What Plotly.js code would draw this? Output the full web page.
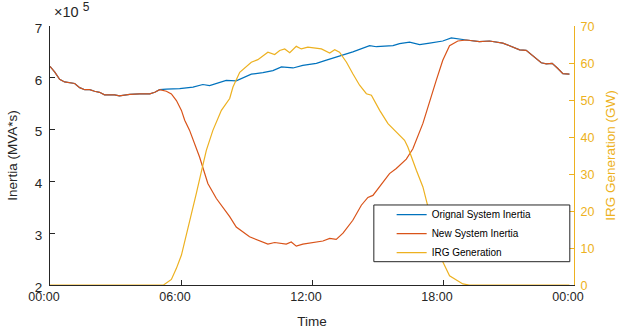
<!DOCTYPE html>
<html>
<head>
<meta charset="utf-8">
<script src="https://cdn.plot.ly/plotly-3.0.1.min.js"></script>
<style>html,body{margin:0;padding:0;background:#fff;}#chart{width:619px;height:331px;}</style>
</head>
<body>
<div id="chart"></div>
<script>
// Shared inertia before the two curves split (hours, x1e5 MVA*s)
const commonEarlyT = [0, 0.22, 0.44, 0.67, 1.13, 1.36, 1.59, 1.82, 2.04, 2.27, 2.50, 2.96, 3.18, 3.40, 3.65, 4.11, 4.57, 4.80, 5.02];
const commonEarlyV = [6.22, 6.11, 5.97, 5.92, 5.89, 5.81, 5.77, 5.77, 5.74, 5.72, 5.67, 5.67, 5.65, 5.67, 5.68, 5.69, 5.69, 5.72, 5.77];
// Original system inertia while the curves differ
const blueMidT = [5.33, 5.94, 6.55, 7.00, 7.31, 7.77, 8.07, 8.53, 9.22, 9.75, 10.21, 10.60, 11.13, 11.58, 12.20, 12.66, 13.11, 13.87, 14.64, 14.95, 15.71, 16.01, 16.47, 16.93, 17.39, 17.99, 18.38, 18.68];
const blueMidV = [5.78, 5.79, 5.82, 5.87, 5.85, 5.91, 5.95, 5.94, 6.07, 6.10, 6.14, 6.21, 6.19, 6.24, 6.28, 6.34, 6.40, 6.50, 6.62, 6.60, 6.62, 6.66, 6.69, 6.64, 6.67, 6.71, 6.77, 6.75];
// New system inertia while the curves differ
const redMidT = [5.33, 5.56, 5.79, 6.02, 6.17, 6.39, 6.85, 7.23, 7.62, 8.23, 8.53, 9.14, 9.98, 10.29, 10.82, 11.05, 11.28, 11.58, 12.50, 12.81, 13.11, 13.42, 13.87, 14.26, 14.56, 14.79, 15.55, 15.86, 16.32, 16.62, 17.08, 17.39, 17.69, 17.99, 18.30, 18.68];
const redMidV = [5.74, 5.69, 5.56, 5.37, 5.18, 4.99, 4.47, 3.96, 3.67, 3.32, 3.12, 2.93, 2.79, 2.82, 2.79, 2.83, 2.75, 2.79, 2.85, 2.90, 2.88, 3.00, 3.25, 3.54, 3.69, 3.73, 4.15, 4.25, 4.43, 4.63, 5.12, 5.56, 5.95, 6.34, 6.62, 6.71];
// Shared inertia after the curves merge again
const commonLateT = [19.07, 19.67, 20.13, 20.74, 21.20, 21.51, 21.81, 22.12, 22.50, 22.73, 23.00, 23.26, 23.49, 23.79];
const commonLateV = [6.73, 6.70, 6.71, 6.67, 6.59, 6.54, 6.53, 6.43, 6.29, 6.27, 6.28, 6.18, 6.08, 6.07];
// IRG generation (GW)
const irgT = [0, 5.20, 5.56, 5.79, 6.02, 6.25, 6.47, 6.70, 6.93, 7.16, 7.46, 7.85, 8.23, 8.38, 8.69, 9.22, 9.52, 9.98, 10.29, 10.52, 10.75, 10.98, 11.28, 11.51, 11.81, 12.43, 12.81, 13.04, 13.26, 13.58, 13.87, 14.18, 14.49, 14.72, 15.10, 15.48, 16.24, 16.39, 16.78, 17.08, 17.39, 17.84, 17.99, 18.30, 18.91, 19.20, 23.79];
const irgV = [0, 0, 1.5, 4.5, 8.1, 13.5, 18.9, 24.7, 30.6, 36.4, 41.8, 47.2, 50.4, 53.5, 57.5, 60.2, 60.9, 62.9, 62.3, 63.4, 63.8, 62.8, 64.5, 63.8, 64.3, 63.8, 62.7, 63.6, 62.9, 60.2, 57.1, 54.0, 51.7, 51.3, 47.2, 43.6, 39.1, 37.3, 31.0, 26.5, 19.3, 8.6, 6.3, 2.5, 0.3, 0, 0];

const tickHours = [0, 6, 12, 18, 24];
const tickLabels = ['00:00', '06:00', '12:00', '18:00', '00:00'];
const seriesNames = ['Orignal System Inertia', 'New System Inertia', 'IRG Generation'];

const BLUE = '#0072BD', RED = '#D95319', YEL = '#EDB120', INK = '#262626';
const FONT = 'Liberation Sans, Arial, Helvetica, sans-serif';

const blueT = commonEarlyT.concat(blueMidT, commonLateT);
const blueV = commonEarlyV.concat(blueMidV, commonLateV);
const redT = commonEarlyT.concat(redMidT, commonLateT);
const redV = commonEarlyV.concat(redMidV, commonLateV);

const traces = [
  {x: blueT, y: blueV, type: 'scatter', mode: 'lines', name: seriesNames[0], line: {color: BLUE, width: 1.2}, yaxis: 'y'},
  {x: redT, y: redV, type: 'scatter', mode: 'lines', name: seriesNames[1], line: {color: RED, width: 1.2}, yaxis: 'y'},
  {x: irgT, y: irgV, type: 'scatter', mode: 'lines', name: seriesNames[2], line: {color: YEL, width: 1.2}, yaxis: 'y2'}
];

const layout = {
  width: 619, height: 331,
  margin: {l: 50, r: 45, t: 26, b: 46, pad: 0},
  paper_bgcolor: '#fff', plot_bgcolor: '#fff',
  font: {family: FONT, color: INK, size: 12},
  showlegend: true,
  legend: {x: 0.652, y: 0.328, xanchor: 'left', yanchor: 'top', bgcolor: 'rgba(0,0,0,0)', borderwidth: 0,
           font: {size: 10, color: '#000', family: FONT}, tracegroupgap: 0},
  xaxis: {range: [0, 24], tickvals: tickHours, ticktext: tickLabels, ticks: 'inside', ticklen: 5, tickcolor: INK,
          showline: true, linecolor: INK, linewidth: 1, showgrid: false, zeroline: false,
          tickfont: {size: 12.5, color: INK}, ticklabelshift: -6,
          title: {text: 'Time', font: {size: 13.5, color: INK}, standoff: 13}},
  xaxis2: {range: [0, 24], overlaying: 'x', side: 'top', tickvals: tickHours, ticks: 'inside', ticklen: 5, tickcolor: INK,
           showticklabels: false, showline: true, linecolor: '#6e6e6e', linewidth: 1, showgrid: false, zeroline: false},
  yaxis: {range: [2, 7], dtick: 1, ticks: 'inside', ticklen: 5, tickcolor: INK, showline: true, linecolor: INK, linewidth: 1,
          showgrid: false, zeroline: false, tickfont: {size: 13.5, color: INK}, ticklabelstandoff: 4, ticklabelshift: 2,
          title: {text: 'Inertia (MVA*s)', font: {size: 13.5, color: INK}, standoff: 14}},
  yaxis2: {range: [0, 70], dtick: 10, overlaying: 'y', side: 'right', ticks: 'inside', ticklen: 5, tickcolor: YEL,
           showline: true, linecolor: YEL, linewidth: 1, showgrid: false, zeroline: false,
           tickfont: {size: 12.5, color: YEL}, ticklabelstandoff: 3, ticklabelshift: 1,
           title: {text: 'IRG Generation (GW)', font: {size: 13.5, color: YEL}, standoff: 12}},
  shapes: [
    {type: 'rect', xref: 'paper', yref: 'paper', x0: 0.618, x1: 0.992, y0: 0.09, y1: 0.309,
     fillcolor: '#fff', line: {color: INK, width: 1}, layer: 'above'}
  ],
  annotations: [
    {xref: 'paper', yref: 'paper', x: 0, y: 1, xanchor: 'left', yanchor: 'bottom', xshift: 2, yshift: 4,
     text: '×10 <sup><span style="font-size:12px">5</span></sup>', showarrow: false, font: {size: 14.5, color: INK}}
  ]
};

Plotly.newPlot('chart', traces, layout, {staticPlot: true, displayModeBar: false});
</script>
</body>
</html>
